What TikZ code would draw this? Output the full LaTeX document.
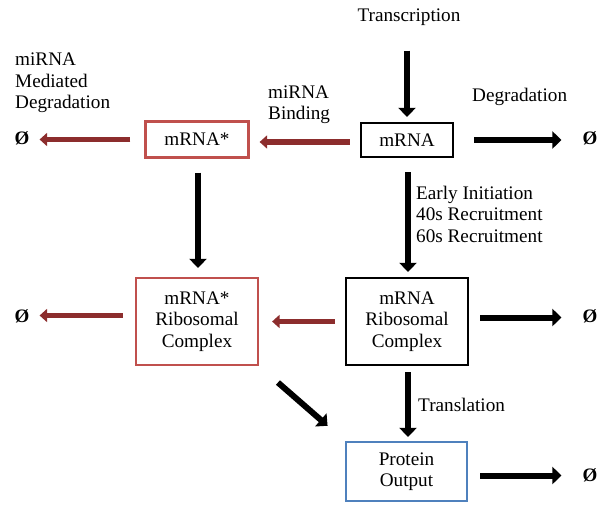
\documentclass[tikz,border=0pt]{standalone}
\usepackage{fontspec}
\setmainfont{Liberation Serif}
\usetikzlibrary{arrows.meta,calc}
\definecolor{BoxRedClr}{RGB}{192,80,77}
\definecolor{ArrRedClr}{RGB}{140,45,45}
\definecolor{BoxBlueClr}{RGB}{79,129,189}

\begin{document}
\begin{tikzpicture}[x=1pt,y=-1pt,
  txt/.style={inner sep=0pt,align=left,font=\fontsize{19.2}{21.5}\selectfont},
  box/.style={txt,draw,line width=2.2pt,align=center},
  nul/.style={inner sep=0pt,font=\fontsize{19}{21}\selectfont\bfseries},
  blkarrow/.style={line width=6pt,-{Triangle[length=9pt,width=17pt]}},
  redarrow/.style={line width=5.5pt,color=ArrRedClr,-{Triangle[length=7.5pt,width=13pt]}}]
\useasboundingbox (0,0) rectangle (609,511);

% boxes
\node[box,minimum width=92pt,minimum height=34pt] (mrna) at (407,140) {mRNA};
\node[box,draw=BoxRedClr,minimum width=103pt,minimum height=36pt] (mstar) at (197,139.5) {mRNA*};
\node[box,minimum width=122pt,minimum height=87pt] (ribo) at (407,321.5) {mRNA\\Ribosomal\\Complex};
\node[box,draw=BoxRedClr,minimum width=122pt,minimum height=87pt] (rstar) at (197,321.5) {mRNA*\\Ribosomal\\Complex};
\node[box,draw=BoxBlueClr,minimum width=121pt,minimum height=59pt] (prot) at (406.5,471.5) {Protein\\Output};

% labels
\node[txt] (tr) at (409,17) {Transcription};
\node[txt,anchor=west] (mdeg) at (15,83) {miRNA\\Mediated\\Degradation};
\node[txt,anchor=west] (bind) at (268,104.5) {miRNA\\Binding};
\node[txt,anchor=west] (deg) at (472,97) {Degradation};
\node[txt,anchor=west] (init) at (416,214) {Early Initiation\\40s Recruitment\\60s Recruitment};
\node[txt,anchor=west] (trans) at (418,405) {Translation};

% empty sets
\node[nul] (n1) at (22,138) {Ø};
\node[nul] (n2) at (590,138) {Ø};
\node[nul] (n3) at (22,316) {Ø};
\node[nul] (n4) at (590,316) {Ø};
\node[nul] (n5) at (590,475) {Ø};

% arrows
\draw[blkarrow,shorten <=25pt,shorten >=5pt] (tr.south -| mrna.north) -- (mrna.north);
\draw[redarrow,shorten <=10pt,shorten >=10pt] ($(mrna.west)+(0,2)$) -- ($(mrna.west -| mstar.east)+(0,2)$);
\draw[redarrow,shorten <=14pt,shorten >=10pt] (mstar.west) -- (n1.east |- mstar.west);
\draw[blkarrow,shorten <=20pt,shorten >=21pt] (mrna.east) -- (n2.west |- mrna.east);
\draw[blkarrow,shorten <=14pt,shorten >=5pt] ($(mrna.south)+(1,0)$) -- ($(ribo.north)+(1,0)$);
\draw[blkarrow,shorten <=14pt,shorten >=9pt] ($(mstar.south)+(1,0)$) -- ($(rstar.north)+(1,0)$);
\draw[redarrow,shorten <=10pt,shorten >=13pt] (ribo.west) -- (rstar.east);
\draw[redarrow,shorten <=12pt,shorten >=10pt] ($(rstar.west)+(0,-6)$) -- (n3.east |- {$(rstar.west)+(0,-6)$});
\draw[blkarrow,shorten <=11pt,shorten >=21pt] ($(ribo.east)+(0,-4)$) -- (n4.west |- {$(ribo.east)+(0,-4)$});
\draw[blkarrow,shorten <=25pt,shorten >=23pt] (rstar.south east) -- (prot.north west);
\draw[blkarrow,shorten <=6pt,shorten >=4pt] ($(ribo.south)+(1,0)$) -- ($(prot.north)+(1.5,0)$);
\draw[blkarrow,shorten <=12pt,shorten >=21pt] ($(prot.east)+(0,4)$) -- (n5.west |- {$(prot.east)+(0,4)$});
\end{tikzpicture}
\end{document}
